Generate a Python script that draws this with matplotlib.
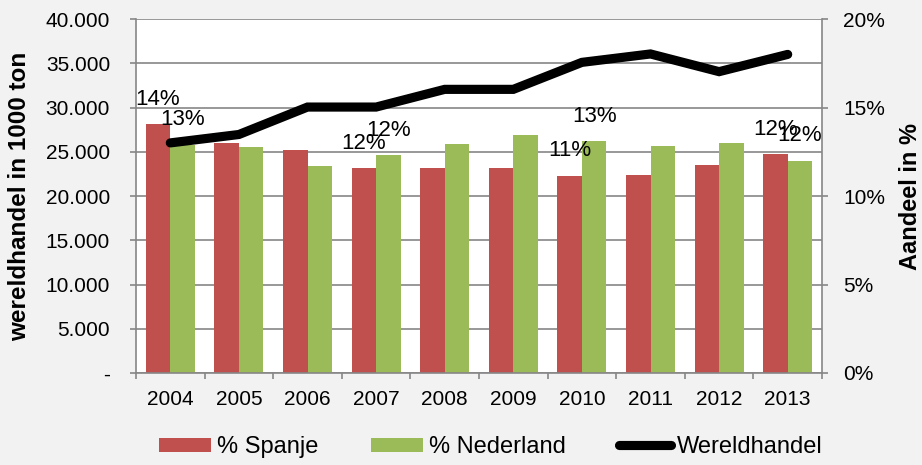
import matplotlib
matplotlib.use("Agg")
import matplotlib.pyplot as plt
from matplotlib.ticker import FuncFormatter, MultipleLocator, FixedLocator
import numpy as np

years = ["2004", "2005", "2006", "2007", "2008", "2009", "2010", "2011", "2012", "2013"]
spanje = [14.05, 12.97, 12.62, 11.56, 11.6, 11.56, 11.13, 11.18, 11.75, 12.35]
nederland = [12.9, 12.78, 11.71, 12.3, 12.93, 13.42, 13.1, 12.8, 12.97, 12.0]
wereldhandel = [26000, 26950, 30050, 30050, 32050, 32050, 35100, 36050, 34050, 36000]
labelled = [0, 3, 6, 9]

RED = "#C0504D"
GREEN = "#9BBB59"
GRID = "#868686"

plt.rcParams["font.family"] = ["Liberation Sans", "DejaVu Sans"]

fig = plt.figure(figsize=(9.22, 4.65), dpi=100, facecolor="#F2F2F2")
ax = fig.add_axes([136/922, 1-373/465, (822-136)/922, (373-19)/465])
ax.set_facecolor("white")

x = np.arange(len(years))
w = 0.357
b1 = ax.bar(x - w/2, spanje, w, color=RED, label="% Spanje", zorder=2)
b2 = ax.bar(x + w/2, nederland, w, color=GREEN, label="% Nederland", zorder=2)

for i in labelled:
    ax.annotate(f"{spanje[i]:.0f}%", (x[i] - w/2, spanje[i]), xytext=(0, 25),
                textcoords="offset pixels", ha="center", va="center", fontsize=16, zorder=5)
    ax.annotate(f"{nederland[i]:.0f}%", (x[i] + w/2, nederland[i]), xytext=(0, 25),
                textcoords="offset pixels", ha="center", va="center", fontsize=16, zorder=5)

ax.set_ylim(0, 20)
ax.set_xlim(-0.5, len(years) - 0.5)
ax.set_xticks(x)
ax.set_xticklabels(years)
ax.xaxis.set_minor_locator(FixedLocator(np.arange(-0.5, len(years), 1.0)))
ax.tick_params(axis="x", which="major", length=0, labelsize=15, pad=12)
ax.tick_params(axis="x", which="minor", length=4.3, width=1.2, color=GRID)

for s in ["left", "right", "bottom"]:
    ax.spines[s].set_color(GRID)
    ax.spines[s].set_linewidth(1.2)
ax.spines["top"].set_visible(False)

ax2 = ax.twinx()
ln, = ax2.plot(x, wereldhandel, color="black", linewidth=6.6, solid_capstyle="round",
               solid_joinstyle="miter", label="Wereldhandel", zorder=3)
ax2.set_ylim(0, 40000)
ax2.yaxis.tick_left()
ax2.yaxis.set_major_locator(MultipleLocator(5000))
ax2.yaxis.set_major_formatter(FuncFormatter(
    lambda v, p: "-" if v == 0 else f"{v:,.0f}".replace(",", ".")))
ax2.tick_params(axis="y", length=4.3, width=1.2, color=GRID, labelsize=15, pad=14.4)
for s in ax2.spines.values():
    s.set_visible(False)

# percentage axis on the right (bars)
ax.yaxis.tick_right()
ax.yaxis.set_major_locator(MultipleLocator(5))
ax.yaxis.set_minor_locator(MultipleLocator(2.5))
ax.yaxis.set_major_formatter(FuncFormatter(lambda v, p: f"{v:.0f}%"))
ax.grid(axis="y", which="both", color=GRID, linewidth=1.2, zorder=0)
ax.set_axisbelow(True)
ax.tick_params(axis="y", which="major", length=4.3, width=1.2, color=GRID, labelsize=15, pad=11)
ax.tick_params(axis="y", which="minor", length=0)

fig.text(20/922, 1-196/465, "wereldhandel in 1000 ton", rotation=90, ha="center", va="center",
         fontsize=17.5, fontweight="bold")
fig.text(910/922, 1-196/465, "Aandeel in %", rotation=90, ha="center", va="center",
         fontsize=17, fontweight="bold")

leg = fig.legend([b1, b2, ln], ["% Spanje", "% Nederland", "Wereldhandel"],
                 loc="center", bbox_to_anchor=(491/922, 1-447/465), ncol=3,
                 frameon=False, fontsize=17, handlelength=2.2, handleheight=0.53,
                 columnspacing=2.25, handletextpad=0.25)

fig.savefig("out.png", dpi=100, facecolor=fig.get_facecolor())
